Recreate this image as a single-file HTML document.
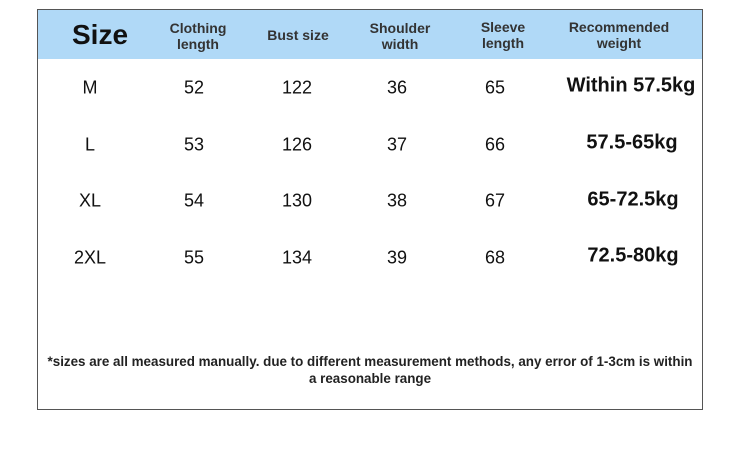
<!DOCTYPE html>
<html><head><style>
body{margin:0;width:750px;height:467px;background:#fff;font-family:"Liberation Sans","DejaVu Sans",sans-serif;position:relative;overflow:hidden}
.box{position:absolute;left:37px;top:9px;width:666px;height:401px;border:1px solid #555;box-sizing:border-box}
.hdr{position:absolute;left:38px;top:10px;width:664px;height:49px;background:#b0d9f7}
.t{position:absolute;transform:translate(-50%,-50%);text-align:center;color:#222;white-space:nowrap}
.h{font-weight:bold;font-size:14px;line-height:16px;color:#333}
.d{font-size:18px;color:#111}
.w{font-size:20px;font-weight:bold;color:#111}
.f{position:absolute;left:30px;width:680px;top:353px;text-align:center;font-size:13.4px;line-height:17px;color:#222;font-weight:bold}
</style></head><body>
<div class="box"></div><div class="hdr"></div>
<div class="t" style="left:100px;top:35px;font-size:28px;font-weight:bold;color:#111">Size</div>
<div class="t h" style="left:198px;top:36px">Clothing<br>length</div>
<div class="t h" style="left:298px;top:35px">Bust size</div>
<div class="t h" style="left:400px;top:36px">Shoulder<br>width</div>
<div class="t h" style="left:503px;top:35px">Sleeve<br>length</div>
<div class="t h" style="left:619px;top:35px">Recommended<br>weight</div>

<div class="t d" style="left:90px;top:88px">M</div>
<div class="t d" style="left:194px;top:88px">52</div>
<div class="t d" style="left:297px;top:88px">122</div>
<div class="t d" style="left:397px;top:88px">36</div>
<div class="t d" style="left:495px;top:88px">65</div>
<div class="t w" style="left:631px;top:86px">Within 57.5kg</div>

<div class="t d" style="left:90px;top:145px">L</div>
<div class="t d" style="left:194px;top:145px">53</div>
<div class="t d" style="left:297px;top:145px">126</div>
<div class="t d" style="left:397px;top:145px">37</div>
<div class="t d" style="left:495px;top:145px">66</div>
<div class="t w" style="left:632px;top:143px">57.5-65kg</div>

<div class="t d" style="left:90px;top:201px">XL</div>
<div class="t d" style="left:194px;top:201px">54</div>
<div class="t d" style="left:297px;top:201px">130</div>
<div class="t d" style="left:397px;top:201px">38</div>
<div class="t d" style="left:495px;top:201px">67</div>
<div class="t w" style="left:633px;top:200px">65-72.5kg</div>

<div class="t d" style="left:90px;top:258px">2XL</div>
<div class="t d" style="left:194px;top:258px">55</div>
<div class="t d" style="left:297px;top:258px">134</div>
<div class="t d" style="left:397px;top:258px">39</div>
<div class="t d" style="left:495px;top:258px">68</div>
<div class="t w" style="left:633px;top:256px">72.5-80kg</div>

<div class="f">*sizes are all measured manually. due to different measurement methods, any error of 1-3cm is within<br>a reasonable range</div>
</body></html>
